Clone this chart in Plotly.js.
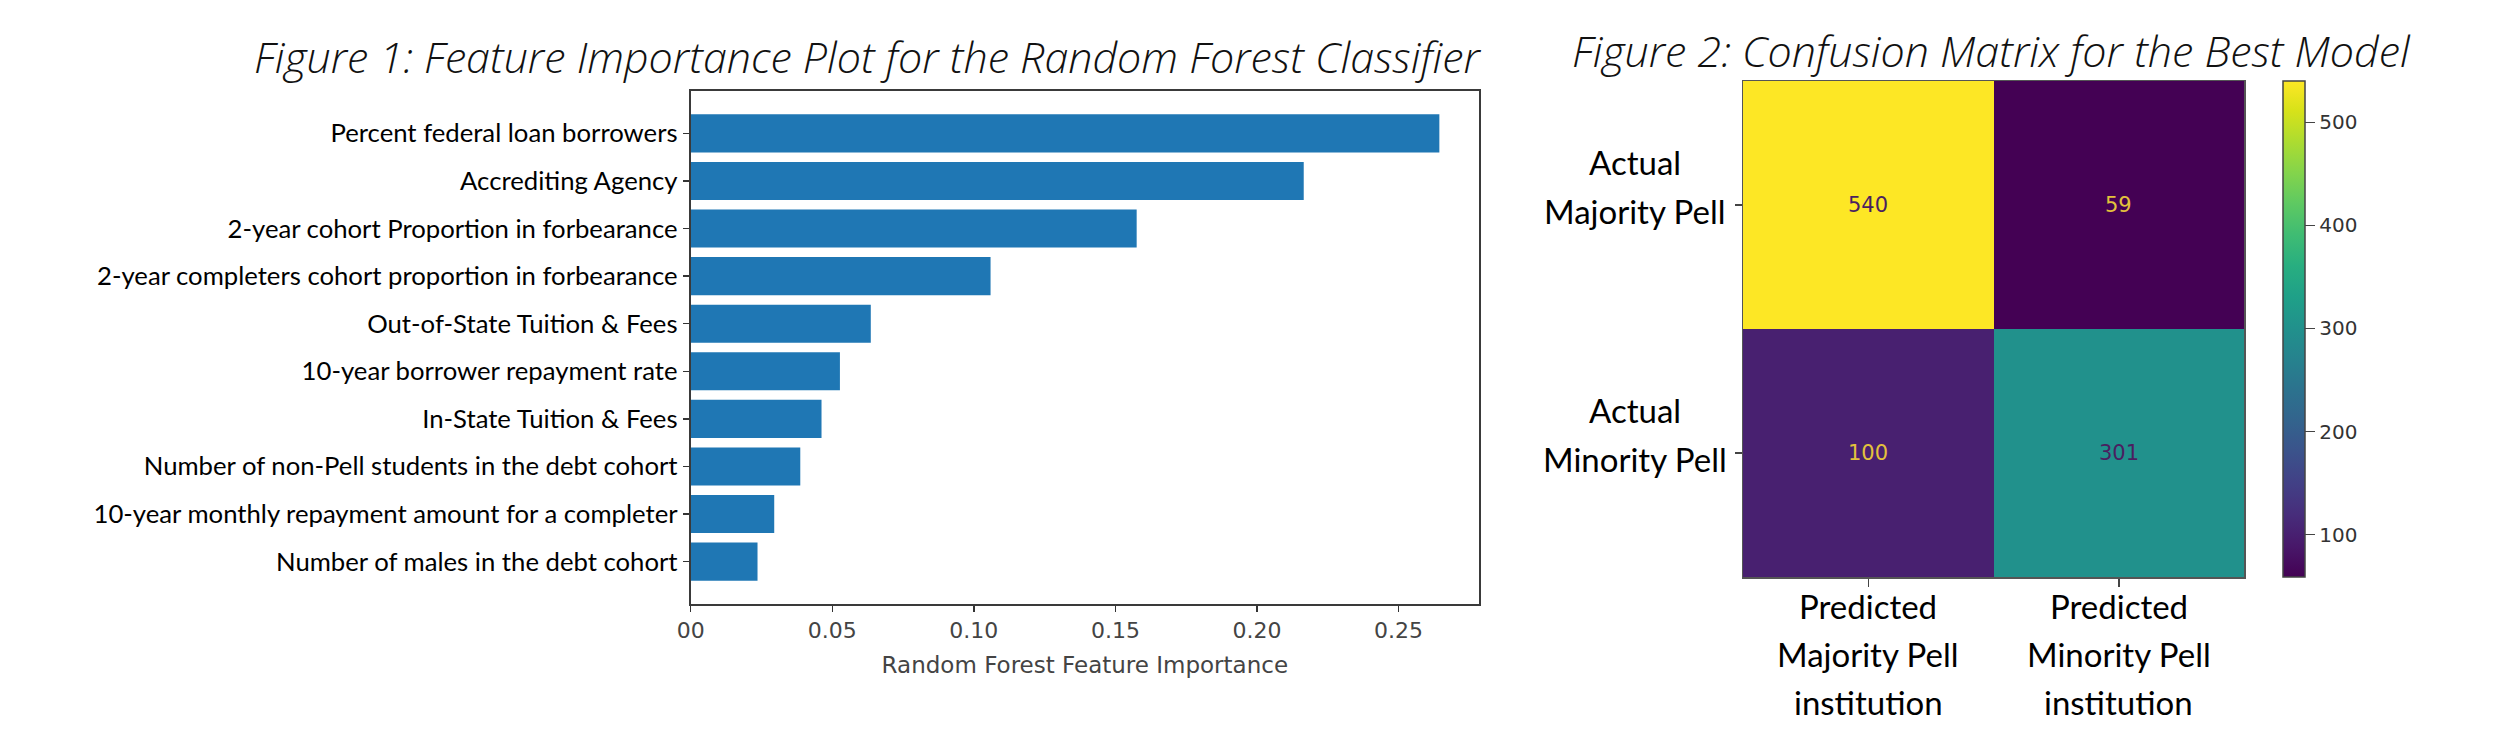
<!DOCTYPE html>
<html><head><meta charset="utf-8">
<script src="https://cdn.plot.ly/plotly-3.0.1.min.js"></script>
<style>html,body{margin:0;padding:0;background:#fff;}</style>
</head><body><div id="chart" style="width:2495px;height:740px;"></div>
<script>
// ---- data ----
const features = [
  'Percent federal loan borrowers',
  'Accrediting Agency',
  '2-year cohort Proportion in forbearance',
  '2-year completers cohort proportion in forbearance',
  'Out-of-State Tuition & Fees',
  '10-year borrower repayment rate',
  'In-State Tuition & Fees',
  'Number of non-Pell students in the debt cohort',
  '10-year monthly repayment amount for a completer',
  'Number of males in the debt cohort'
];
const importance = [0.2644, 0.2165, 0.1575, 0.1059, 0.0636, 0.0527, 0.0462, 0.0387, 0.0295, 0.0236];
const xTickVals = [0, 0.05, 0.10, 0.15, 0.20, 0.25];
const xTickText = ['00', '0.05', '0.10', '0.15', '0.20', '0.25'];
const xAxisTitle = 'Random Forest Feature Importance';
const title1 = 'Figure 1: Feature Importance Plot for the Random Forest Classifier';
const title2 = 'Figure 2: Confusion Matrix for the Best Model';

const rowLabels = [['Actual', 'Majority Pell'], ['Actual', 'Minority Pell']];
const colLabels = [['Predicted', 'Majority Pell', 'institution'], ['Predicted', 'Minority Pell', 'institution']];
const cmValues = [[540, 59], [100, 301]];
const cbTicks = [100, 200, 300, 400, 500];

// ---- layout helpers ----
const W = 2495, H = 740;
const px = v => v / W;
const py = v => 1 - v / H;

const rowCats = rowLabels.map(l => l.join(' '));
const colCats = colLabels.map(l => l.join(' '));
const zAll = cmValues.flat();
const zMin = Math.min(...zAll), zMax = Math.max(...zAll);
const thresh = (zMin + zMax) / 2;

const titleFont = {family: 'Open Sans', size: 43, style: 'italic', weight: 300, color: '#111'};
const labelFont = {family: 'Lato', size: 33, color: '#000'};

const traces = [
  {
    type: 'bar', orientation: 'h',
    x: importance, y: features,
    width: 0.8,
    marker: {color: '#1f77b4', line: {width: 0}},
    xaxis: 'x', yaxis: 'y', hoverinfo: 'skip'
  },
  {
    type: 'heatmap',
    z: cmValues, x: colCats, y: rowCats,
    xaxis: 'x2', yaxis: 'y2',
    colorscale: 'Viridis', zmin: zMin, zmax: zMax,
    hoverinfo: 'skip',
    colorbar: {
      x: px(2283), xanchor: 'left', xref: 'paper', xpad: 0, ypad: 0,
      y: py(329), yanchor: 'middle', len: 496 / H, lenmode: 'fraction',
      thickness: 22, thicknessmode: 'pixels',
      outlinecolor: '#444', outlinewidth: 1.5, borderwidth: 0,
      ticks: 'outside', ticklen: 10, tickcolor: '#444', tickwidth: 1.5,
      tickvals: cbTicks,
      tickfont: {family: 'DejaVu Sans', size: 20, color: '#333'}
    }
  }
];

const annotations = [];
annotations.push({
  text: title1, xref: 'paper', yref: 'paper', x: px(867), y: py(57),
  xanchor: 'center', yanchor: 'middle', showarrow: false, font: titleFont
});
annotations.push({
  text: title2, xref: 'paper', yref: 'paper', x: px(1991), y: py(51),
  xanchor: 'center', yanchor: 'middle', showarrow: false, font: titleFont
});
// cell values
cmValues.forEach((row, i) => row.forEach((v, j) => {
  annotations.push({
    text: String(v), xref: 'x2', yref: 'y2', x: colCats[j], y: rowCats[i],
    showarrow: false, xanchor: 'center', yanchor: 'middle',
    font: {family: 'DejaVu Sans', size: 21, color: v < thresh ? '#e3c23c' : '#4a1f60'}
  });
}));
// row labels (centred block to the left of the matrix)
rowLabels.forEach((lines, i) => {
  const shifts = [43, -6];
  lines.forEach((ln, k) => annotations.push({
    text: ln, xref: 'paper', yref: 'y2', x: px(1635), y: rowCats[i], yshift: shifts[k],
    showarrow: false, xanchor: 'center', yanchor: 'middle', font: labelFont
  }));
});
// column labels
colLabels.forEach((lines, j) => {
  const ys = [606, 654, 702];
  lines.forEach((ln, k) => annotations.push({
    text: ln, xref: 'x2', yref: 'paper', x: colCats[j], y: py(ys[k]),
    showarrow: false, xanchor: 'center', yanchor: 'middle', font: labelFont
  }));
});

const layout = {
  width: W, height: H,
  margin: {l: 0, r: 0, t: 0, b: 0, pad: 0},
  paper_bgcolor: '#fff', plot_bgcolor: '#fff',
  showlegend: false,
  xaxis: {
    domain: [px(690.7), px(1479)], range: [0, 0.2784], anchor: 'y',
    tickvals: xTickVals, ticktext: xTickText,
    ticks: 'outside', ticklen: 6, tickwidth: 1.5, tickcolor: '#333',
    tickfont: {family: 'DejaVu Sans', size: 22, color: '#444'},
    showline: true, mirror: true, linecolor: '#3a3a3a', linewidth: 2,
    showgrid: false, zeroline: false, fixedrange: true,
    title: {text: xAxisTitle, standoff: 14, font: {family: 'DejaVu Sans', size: 23, color: '#444'}}
  },
  yaxis: {
    domain: [py(604), py(91)], range: [9.89, -0.89], type: 'category', anchor: 'x',
    ticks: 'outside', ticklen: 6, tickwidth: 1.5, tickcolor: '#333',
    tickfont: {family: 'Lato', size: 25.7, color: '#000'},
    showline: true, mirror: true, linecolor: '#3a3a3a', linewidth: 2,
    showgrid: false, zeroline: false, fixedrange: true
  },
  xaxis2: {
    domain: [px(1743), px(2244)], range: [-0.5, 1.5], type: 'category', anchor: 'y2',
    ticks: 'outside', ticklen: 8, tickwidth: 1.5, tickcolor: '#444',
    showticklabels: false,
    showline: true, mirror: true, linecolor: '#555', linewidth: 1.5,
    showgrid: false, zeroline: false, fixedrange: true
  },
  yaxis2: {
    domain: [py(577), py(81)], range: [1.5, -0.5], type: 'category', anchor: 'x2',
    ticks: 'outside', ticklen: 7, tickwidth: 1.5, tickcolor: '#444',
    showticklabels: false,
    showline: true, mirror: true, linecolor: '#555', linewidth: 1.5,
    showgrid: false, zeroline: false, fixedrange: true
  },
  annotations: annotations
};

Plotly.newPlot('chart', traces, layout, {displayModeBar: false, staticPlot: true});
</script>
</body></html>
